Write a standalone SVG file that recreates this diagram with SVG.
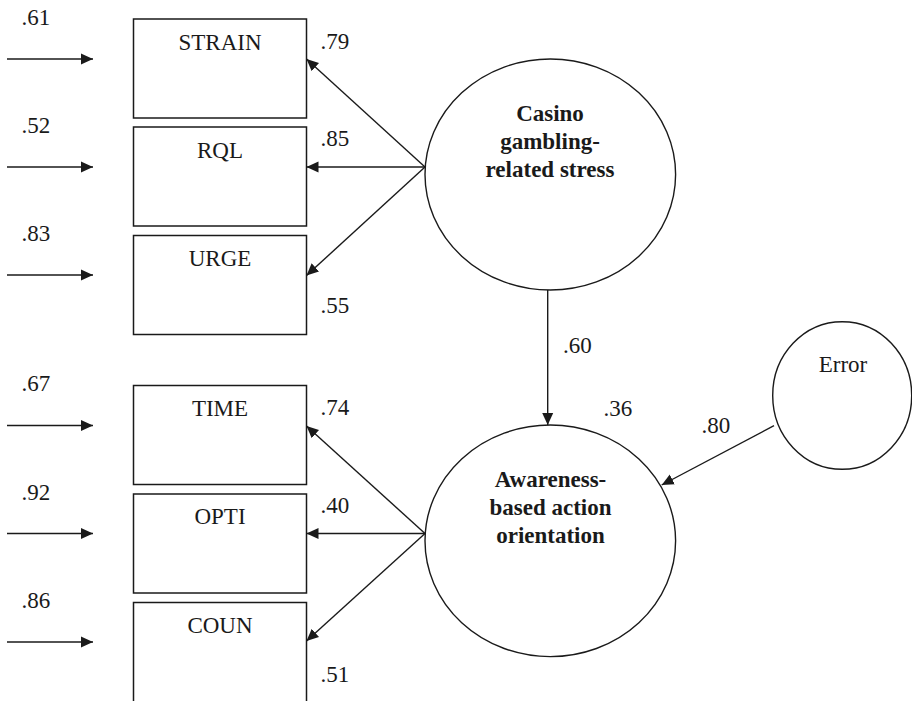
<svg xmlns="http://www.w3.org/2000/svg" width="912" height="701" viewBox="0 0 912 701">
<style>
.box{fill:#fff;stroke:#1a1a1a;stroke-width:1.5}
.ell{fill:#fff;stroke:#1a1a1a;stroke-width:1.4}
.t{font-size:23px;fill:#1a1a1a}
.c{text-anchor:middle}
.b{font-weight:bold;font-size:23px}
.con line{stroke:#1a1a1a;stroke-width:1.4;marker-end:url(#ah)}
</style>
<defs>
<marker id="ah" markerUnits="userSpaceOnUse" markerWidth="12" markerHeight="12" viewBox="0 0 12 12" refX="12" refY="6" orient="auto">
<path d="M0,0.5 L12,6 L0,11.5 Z" fill="#1a1a1a"/>
</marker>
</defs>
<rect width="912" height="701" fill="#fff"/>
<g font-family="Liberation Serif, Times New Roman, Times, serif">
<g id="strain"><rect class="box" x="133.5" y="19" width="173" height="99"/><text class="t c" x="220" y="50">STRAIN</text></g>
<g id="rql"><rect class="box" x="133.5" y="127" width="173" height="99"/><text class="t c" x="220" y="157.5">RQL</text></g>
<g id="urge"><rect class="box" x="133.5" y="235.5" width="173" height="99"/><text class="t c" x="220" y="265.5">URGE</text></g>
<g id="time"><rect class="box" x="133.5" y="385.5" width="173" height="99"/><text class="t c" x="220" y="416">TIME</text></g>
<g id="opti"><rect class="box" x="133.5" y="494" width="173" height="99"/><text class="t c" x="220" y="524">OPTI</text></g>
<g id="coun"><rect class="box" x="133.5" y="602.5" width="173" height="120"/><text class="t c" x="220" y="632.5">COUN</text></g>
<g id="stress"><ellipse class="ell" cx="550.3" cy="174.5" rx="125.3" ry="115.5"/>
<text class="t c b" x="550" y="120.5">Casino</text><text class="t c b" x="550" y="148.5">gambling-</text><text class="t c b" x="550" y="176.5">related stress</text></g>
<g id="awareness"><ellipse class="ell" cx="550.3" cy="540.8" rx="125.3" ry="115.8"/>
<text class="t c b" x="550.5" y="487">Awareness-</text><text class="t c b" x="550.5" y="515">based action</text><text class="t c b" x="550.5" y="543">orientation</text></g>
<g id="error"><ellipse class="ell" cx="842.2" cy="395.5" rx="69.5" ry="73.8"/><text class="t c" x="843" y="371.5">Error</text></g>
<g id="connectors" class="con">
<line x1="7" y1="59" x2="93" y2="59"/>
<line x1="7" y1="167" x2="93" y2="167"/>
<line x1="7" y1="275" x2="93" y2="275"/>
<line x1="7" y1="425.5" x2="93" y2="425.5"/>
<line x1="7" y1="533.5" x2="93" y2="533.5"/>
<line x1="7" y1="642" x2="93" y2="642"/>
<line x1="425" y1="167" x2="306.5" y2="59"/>
<line x1="425" y1="167" x2="306.5" y2="167"/>
<line x1="425" y1="167" x2="306.5" y2="275.5"/>
<line x1="425" y1="533.5" x2="306.5" y2="426"/>
<line x1="425" y1="533.5" x2="306.5" y2="533.5"/>
<line x1="425" y1="533.5" x2="306.5" y2="641"/>
<line x1="547.7" y1="290" x2="547.7" y2="425"/>
<line x1="774" y1="425.7" x2="661.7" y2="485"/>
</g>
<g id="labels">
<text class="t" x="21.5" y="25">.61</text>
<text class="t" x="21.5" y="132.5">.52</text>
<text class="t" x="21.5" y="240.5">.83</text>
<text class="t" x="21.5" y="391">.67</text>
<text class="t" x="21.5" y="500">.92</text>
<text class="t" x="21.5" y="608">.86</text>
<text class="t" x="320.5" y="49">.79</text>
<text class="t" x="320.5" y="145.5">.85</text>
<text class="t" x="320.5" y="313">.55</text>
<text class="t" x="320.5" y="415">.74</text>
<text class="t" x="320.5" y="513">.40</text>
<text class="t" x="320.5" y="681.5">.51</text>
<text class="t" x="563" y="352.5">.60</text>
<text class="t" x="603.5" y="416">.36</text>
<text class="t" x="701.5" y="432.5">.80</text>
</g>
</g>
</svg>
